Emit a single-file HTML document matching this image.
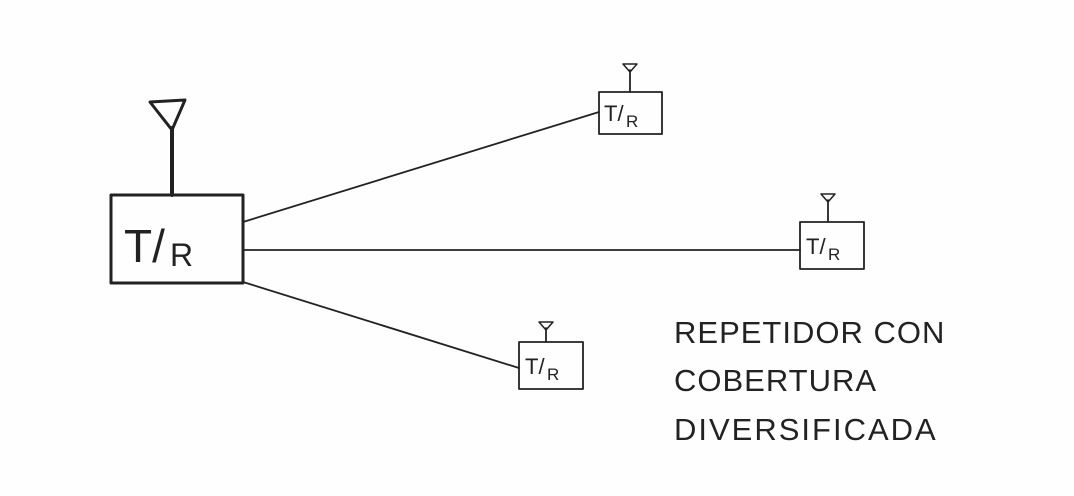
<!DOCTYPE html>
<html><head><meta charset="utf-8"><style>
html,body{margin:0;padding:0;background:#fefefe;}
svg{display:block}
text{font-family:"Liberation Sans",sans-serif;fill:#222;}
</style></head><body>
<svg width="1074" height="496" viewBox="0 0 1074 496" xmlns="http://www.w3.org/2000/svg">
<rect width="1074" height="496" fill="#fefefe"/>
<g stroke="#222" fill="none" stroke-linecap="round" stroke-linejoin="round">
<rect x="111" y="195" width="132" height="88" stroke-width="3"/>
<line x1="172" y1="195" x2="172" y2="128" stroke-width="4"/>
<path d="M150 102 L185 100 L172 130 Z" stroke-width="3"/>
<rect x="599" y="92" width="63" height="42" stroke-width="1.8"/>
<line x1="630" y1="92" x2="630" y2="70" stroke-width="1.8"/>
<path d="M623 64 L637 64 L630 72 Z" stroke-width="1.5"/>
<rect x="800" y="222" width="64" height="47" stroke-width="1.8"/>
<line x1="828" y1="222" x2="828" y2="200" stroke-width="1.8"/>
<path d="M821 194 L835 194 L828 202 Z" stroke-width="1.5"/>
<rect x="519" y="342" width="64" height="47" stroke-width="1.8"/>
<line x1="546" y1="342" x2="546" y2="328" stroke-width="1.8"/>
<path d="M539 322 L553 322 L546 330 Z" stroke-width="1.5"/>
<line x1="243" y1="222" x2="599" y2="112" stroke-width="1.8"/>
<line x1="243" y1="250" x2="800" y2="250" stroke-width="1.8"/>
<line x1="243" y1="282" x2="519" y2="368" stroke-width="1.8"/>
</g>
<text x="124" y="262" font-size="46">T/</text>
<text x="170" y="266" font-size="32">R</text>
<text x="604" y="121" font-size="22">T/</text>
<text x="626" y="127" font-size="17">R</text>
<text x="806" y="254" font-size="22">T/</text>
<text x="828" y="260" font-size="17">R</text>
<text x="525" y="374" font-size="22">T/</text>
<text x="547" y="380" font-size="17">R</text>
<text x="674" y="343" font-size="31" letter-spacing="1">REPETIDOR CON</text>
<text x="674" y="391" font-size="31" letter-spacing="1">COBERTURA</text>
<text x="674" y="440" font-size="31" letter-spacing="2">DIVERSIFICADA</text>
</svg>
</body></html>
